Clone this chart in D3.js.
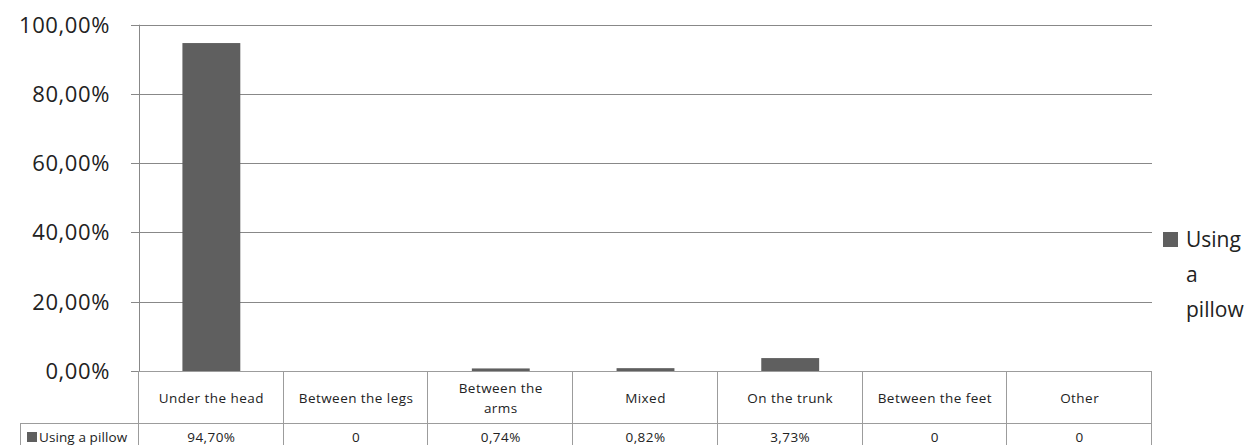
<!DOCTYPE html>
<html>
<head>
<meta charset="utf-8">
<script src="https://cdn.jsdelivr.net/npm/d3@7/dist/d3.min.js"></script>
<style>
  html, body { margin: 0; padding: 0; background: #fff; }
  svg { display: block; }
  text { font-family: "Open Sans", "Noto Sans", sans-serif; }
</style>
</head>
<body>
<svg id="chart" width="1255" height="445"></svg>
<script>
// Where people put a pillow while sleeping (share of respondents)
const categories = [
  "Under the head", "Between the legs", "Between the arms", "Mixed",
  "On the trunk", "Between the feet", "Other"
];
const seriesName = "Using a pillow";
const pillowShare = [0.947, 0, 0.0074, 0.0082, 0.0373, 0, 0];
const yTicks = [0, 0.2, 0.4, 0.6, 0.8, 1.0];
// Header cells that Excel wraps onto two lines
const headerLines = { "Between the arms": ["Between the", "arms"] };

const plot = { left: 139, right: 1152, top: 24.7, bottom: 371 };
const barColor = "#5f5f5f";
const gridColor = "#888";
const tableColor = "#9c9c9c";
const tableFont = 13.5, tableSpacing = 0.45;

const locale = d3.formatLocale({ decimal: ",", thousands: ".", grouping: [3], currency: ["", ""] });
const pct = locale.format(".2%");

const svg = d3.select("#chart");

const x = d3.scaleBand().domain(categories).range([plot.left, plot.right]).paddingInner(0).paddingOuter(0);
const y = d3.scaleLinear().domain([0, 1]).range([plot.bottom, plot.top]);

// Horizontal gridlines with left tick stubs
svg.append("g").selectAll("line").data(yTicks).join("line")
  .attr("x1", plot.left - 8).attr("x2", plot.right)
  .attr("y1", d => Math.round(y(d)) + 0.5).attr("y2", d => Math.round(y(d)) + 0.5)
  .attr("stroke", gridColor).attr("stroke-width", 1);

// Value axis labels
svg.append("g").selectAll("text").data(yTicks).join("text")
  .attr("x", 110).attr("y", d => y(d)).attr("dy", "0.36em")
  .attr("text-anchor", "end").attr("font-size", 22).attr("letter-spacing", 0.6)
  .attr("fill", "#222")
  .text(d => pct(d));

// Vertical axis line
svg.append("line")
  .attr("x1", plot.left + 0.5).attr("x2", plot.left + 0.5)
  .attr("y1", plot.top).attr("y2", plot.bottom)
  .attr("stroke", gridColor);

// Bars
const barW = x.bandwidth() * 0.4;
svg.append("g").selectAll("rect").data(categories).join("rect")
  .attr("x", d => x(d) + (x.bandwidth() - barW) / 2)
  .attr("width", barW)
  .attr("y", (d, i) => y(pillowShare[i]))
  .attr("height", (d, i) => plot.bottom - y(pillowShare[i]))
  .attr("fill", barColor);

// Data table under the plot
const row1Top = plot.bottom, row1Bot = 423, row2Bot = 450;
const tableLeft = 20;
const table = svg.append("g").attr("fill", "none").attr("stroke", tableColor).attr("stroke-width", 1);
table.append("line").attr("x1", plot.left).attr("x2", plot.right).attr("y1", row1Top + 0.5).attr("y2", row1Top + 0.5);
table.append("line").attr("x1", tableLeft).attr("x2", plot.right).attr("y1", row1Bot + 0.5).attr("y2", row1Bot + 0.5);
table.append("line").attr("x1", tableLeft).attr("x2", plot.right).attr("y1", row2Bot - 0.5).attr("y2", row2Bot - 0.5);
const edges = categories.map(c => x(c)).concat([plot.right]);
table.selectAll(".v").data(edges).join("line").attr("class", "v")
  .attr("x1", d => Math.round(d) - 0.5).attr("x2", d => Math.round(d) - 0.5)
  .attr("y1", row1Top).attr("y2", row2Bot);
table.append("line").attr("x1", tableLeft + 0.5).attr("x2", tableLeft + 0.5).attr("y1", row1Bot).attr("y2", row2Bot);

// Header cells
const headerMid = (row1Top + row1Bot) / 2 + 1;
const hdr = svg.append("g").attr("font-size", tableFont).attr("letter-spacing", tableSpacing)
  .attr("fill", "#222").attr("text-anchor", "middle");
categories.forEach(c => {
  const lines = headerLines[c] || [c];
  const cx = x(c) + x.bandwidth() / 2;
  const lh = 20;
  lines.forEach((ln, j) => {
    hdr.append("text")
      .attr("x", cx)
      .attr("y", headerMid + (j - (lines.length - 1) / 2) * lh)
      .attr("dy", "0.36em")
      .text(ln);
  });
});

// Value row
const valMid = 437;
svg.append("g").attr("font-size", tableFont).attr("letter-spacing", tableSpacing)
  .attr("fill", "#222").attr("text-anchor", "middle")
  .selectAll("text").data(categories).join("text")
  .attr("x", d => x(d) + x.bandwidth() / 2)
  .attr("y", valMid).attr("dy", "0.36em")
  .text((d, i) => pillowShare[i] === 0 ? "0" : pct(pillowShare[i]));

// Series key in the table's first column
svg.append("rect").attr("x", 27).attr("y", valMid - 5).attr("width", 10).attr("height", 10).attr("fill", barColor);
svg.append("text").attr("x", 39).attr("y", valMid).attr("dy", "0.36em")
  .attr("font-size", tableFont).attr("letter-spacing", 0.1).attr("fill", "#222").text(seriesName);

// Legend on the right, wrapped over three lines
const legend = svg.append("g");
legend.append("rect").attr("x", 1163).attr("y", 232).attr("width", 15).attr("height", 15).attr("fill", barColor);
const legendWords = ["Using", "a", "pillow"];
legend.selectAll("text").data(legendWords).join("text")
  .attr("x", 1186).attr("y", (d, i) => 247 + i * 35)
  .attr("font-size", 21).attr("fill", "#222")
  .text(d => d);
</script>
</body>
</html>
